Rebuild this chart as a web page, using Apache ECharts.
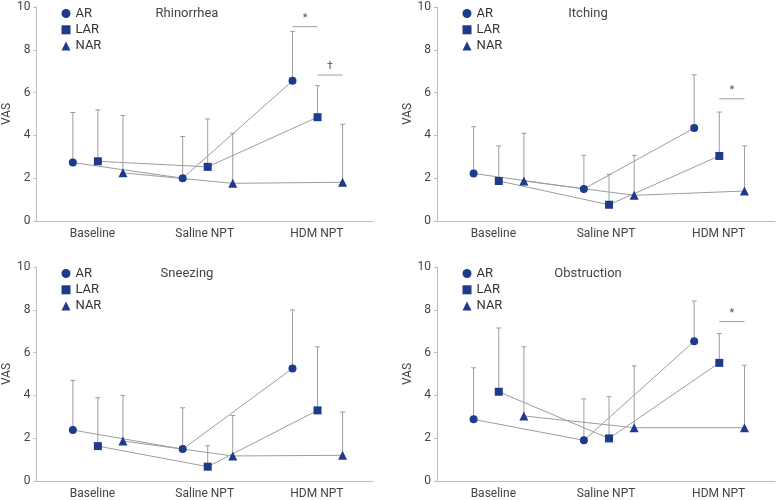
<!DOCTYPE html>
<html>
<head>
<meta charset="utf-8">
<script src="https://cdn.jsdelivr.net/npm/echarts@6/dist/echarts.min.js"></script>
<style>
html,body{margin:0;padding:0;background:#fff;}
#chart{width:778px;height:500px;}
</style>
</head>
<body>
<div id="chart"></div>
<script>
// ---- data ----
const categories = ['Baseline', 'Saline NPT', 'HDM NPT'];
const groupNames = ['AR', 'LAR', 'NAR'];
const panelTitles = ['Rhinorrhea', 'Itching', 'Sneezing', 'Obstruction'];
const yTicks = [0, 2, 4, 6, 8, 10];

// Rhinorrhea: means and upper ends of error bars
const rhinorrheaAR = [2.73, 2.00, 6.55];
const rhinorrheaARUpper = [5.07, 3.95, 8.86];
const rhinorrheaLAR = [2.79, 2.53, 4.85];
const rhinorrheaLARUpper = [5.19, 4.77, 6.32];
const rhinorrheaNAR = [2.25, 1.76, 1.81];
const rhinorrheaNARUpper = [4.93, 4.10, 4.52];

// Itching
const itchingAR = [2.22, 1.50, 4.34];
const itchingARUpper = [4.41, 3.07, 6.83];
const itchingLAR = [1.87, 0.76, 3.04];
const itchingLARUpper = [3.51, 2.18, 5.09];
const itchingNAR = [1.87, 1.20, 1.40];
const itchingNARUpper = [4.10, 3.07, 3.51];

// Sneezing
const sneezingAR = [2.38, 1.49, 5.26];
const sneezingARUpper = [4.70, 3.42, 7.99];
const sneezingLAR = [1.63, 0.67, 3.30];
const sneezingLARUpper = [3.89, 1.65, 6.27];
const sneezingNAR = [1.87, 1.17, 1.20];
const sneezingNARUpper = [4.00, 3.06, 3.22];

// Obstruction
const obstructionAR = [2.88, 1.90, 6.53];
const obstructionARUpper = [5.29, 3.84, 8.41];
const obstructionLAR = [4.17, 1.99, 5.52];
const obstructionLARUpper = [7.15, 3.94, 6.89];
const obstructionNAR = [3.04, 2.49, 2.49];
const obstructionNARUpper = [6.27, 5.38, 5.41];

// Significance brackets at HDM NPT: [fromGroup, toGroup, yValue], labels separately
const rhinorrheaSig = [[0, 1, 9.08], [1, 2, 6.82]];
const rhinorrheaSigLabels = ['*', '\u2020'];
const itchingSig = [[1, 2, 5.71]];
const itchingSigLabels = ['*'];
const sneezingSig = [];
const sneezingSigLabels = [];
const obstructionSig = [[1, 2, 7.45]];
const obstructionSigLabels = ['*'];

// ---- assembly ----
const panels = [
  { means: [rhinorrheaAR, rhinorrheaLAR, rhinorrheaNAR], uppers: [rhinorrheaARUpper, rhinorrheaLARUpper, rhinorrheaNARUpper], sig: rhinorrheaSig, sigLabels: rhinorrheaSigLabels },
  { means: [itchingAR, itchingLAR, itchingNAR], uppers: [itchingARUpper, itchingLARUpper, itchingNARUpper], sig: itchingSig, sigLabels: itchingSigLabels },
  { means: [sneezingAR, sneezingLAR, sneezingNAR], uppers: [sneezingARUpper, sneezingLARUpper, sneezingNARUpper], sig: sneezingSig, sigLabels: sneezingSigLabels },
  { means: [obstructionAR, obstructionLAR, obstructionNAR], uppers: [obstructionARUpper, obstructionLARUpper, obstructionNARUpper], sig: obstructionSig, sigLabels: obstructionSigLabels }
];

const FONT2 = "Roboto, sans-serif";
const markerColor = '#1c3b8c';
const lineColor = '#9d9d9d';
const axisColor = '#bdbdbd';
const textColor = '#444';
const groupOffset = 0.228;
const offsets = [-groupOffset, 0, groupOffset];
const symbols = ['circle', 'rect', 'triangle'];
const symbolSizes = [8, 8, 9];

const gridBoxes = [
  { left: 36, top: 7, width: 337, height: 214 },
  { left: 437, top: 7, width: 338, height: 214 },
  { left: 36, top: 267, width: 337, height: 215 },
  { left: 437, top: 267, width: 338, height: 215 }
];

const grids = [], xAxes = [], yAxes = [], series = [], legends = [], titles = [];

panels.forEach((panel, p) => {
  const g = gridBoxes[p];
  grids.push(Object.assign({ containLabel: false }, g));
  // value axis for data positions
  xAxes.push({ type: 'value', gridIndex: p, min: -0.56, max: 2.505, show: false, axisLine: { onZero: false } });
  // category axis for labels and the baseline
  xAxes.push({
    type: 'category', gridIndex: p, data: categories, boundaryGap: true, position: 'bottom',
    axisLine: { show: true, onZero: false, lineStyle: { color: axisColor, width: 1 } },
    axisTick: { show: false },
    axisLabel: { color: textColor, fontSize: 12, fontFamily: FONT2, margin: 7 }
  });
  yAxes.push({
    type: 'value', gridIndex: p, min: yTicks[0], max: yTicks[yTicks.length - 1], interval: 2,
    position: 'left',
    name: 'VAS', nameLocation: 'middle', nameGap: 22,
    nameTextStyle: { color: textColor, fontSize: 12, fontFamily: FONT2 },
    axisLine: { show: true, onZero: false, lineStyle: { color: axisColor, width: 1 } },
    axisTick: { show: true, length: 3, lineStyle: { color: axisColor } },
    axisLabel: { color: textColor, fontSize: 12, fontFamily: FONT2, margin: 6 },
    splitLine: { show: false }
  });
  const xIdx = 2 * p, yIdx = p;

  // error bars
  panel.means.forEach((m, k) => {
    const data = m.map((v, i) => [i + offsets[k], v, panel.uppers[k][i]]);
    series.push({
      type: 'custom', xAxisIndex: xIdx, yAxisIndex: yIdx, z: 1, silent: true,
      data: data,
      encode: { x: 0, y: [1, 2] },
      renderItem: function (params, api) {
        const x = api.value(0);
        const p0 = api.coord([x, api.value(1)]);
        const p1 = api.coord([x, api.value(2)]);
        const st = { stroke: lineColor, lineWidth: 1 };
        return {
          type: 'group', children: [
            { type: 'line', shape: { x1: p0[0], y1: p0[1], x2: p1[0], y2: p1[1] }, style: st },
            { type: 'line', shape: { x1: p1[0] - 2.5, y1: p1[1], x2: p1[0] + 2.5, y2: p1[1] }, style: st }
          ]
        };
      }
    });
  });

  // mean lines with markers
  panel.means.forEach((m, k) => {
    series.push({
      type: 'line', name: groupNames[k], xAxisIndex: xIdx, yAxisIndex: yIdx, z: 3,
      data: m.map((v, i) => [i + offsets[k], v]),
      symbol: symbols[k], symbolSize: symbolSizes[k], showSymbol: true,
      lineStyle: { color: lineColor, width: 1 },
      itemStyle: { color: markerColor },
      emphasis: { disabled: true },
      animation: false
    });
  });

  // significance brackets (at HDM NPT, category index 2)
  if (panel.sig.length) {
    const labels = panel.sigLabels;
    series.push({
      type: 'custom', xAxisIndex: xIdx, yAxisIndex: yIdx, z: 2, silent: true,
      data: panel.sig.map(s => [2 + offsets[s[0]], 2 + offsets[s[1]], s[2]]),
      encode: { x: [0, 1], y: 2 },
      renderItem: function (params, api) {
        const a = api.coord([api.value(0), api.value(2)]);
        const b = api.coord([api.value(1), api.value(2)]);
        return {
          type: 'group', children: [
            { type: 'line', shape: { x1: a[0], y1: a[1], x2: b[0], y2: b[1] }, style: { stroke: lineColor, lineWidth: 1 } },
            { type: 'text', style: { text: labels[params.dataIndex], x: (a[0] + b[0]) / 2, y: a[1] - 3, textAlign: 'center', textVerticalAlign: 'bottom', fill: '#555', font: '11px ' + FONT2 } }
          ]
        };
      }
    });
  }

  legends.push({
    orient: 'vertical', left: g.left + 25.5, top: g.top,
    padding: 0,
    itemWidth: 9, itemHeight: 9, itemGap: 3.3,
    data: groupNames.map((n, k) => ({ name: n, icon: symbols[k] })),
    textStyle: { color: '#333', fontSize: 13, fontFamily: FONT2 },
    selectedMode: false,
    itemStyle: { color: markerColor }
  });

  titles.push({
    text: panelTitles[p], left: g.left + 146, top: g.top - 4.5, textAlign: 'center',
    textStyle: { color: textColor, fontSize: 13, fontWeight: 'normal', fontFamily: FONT2 }
  });
});

const chart = echarts.init(document.getElementById('chart'), null, { renderer: 'canvas' });
chart.setOption({
  backgroundColor: '#ffffff',
  animation: false,
  title: titles,
  legend: legends,
  grid: grids,
  xAxis: xAxes,
  yAxis: yAxes,
  series: series
});
</script>
</body>
</html>
